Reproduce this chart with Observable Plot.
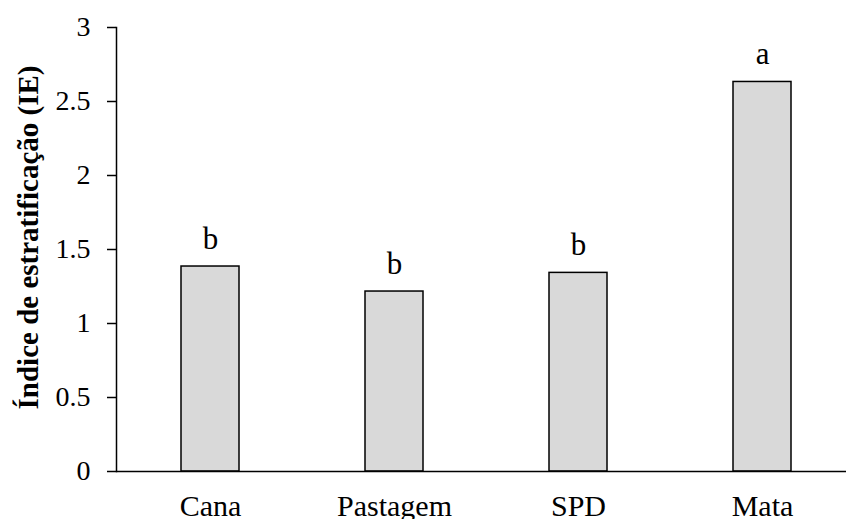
<!DOCTYPE html>
<html>
<head>
<meta charset="utf-8">
<script src="https://cdn.jsdelivr.net/npm/d3@7"></script>
<script src="https://cdn.jsdelivr.net/npm/@observablehq/plot@0.6"></script>
<style>
  html, body { margin: 0; padding: 0; background: #fff; }
</style>
</head>
<body>
<div id="chart"></div>
<script>
const categories = ["Cana", "Pastagem", "SPD", "Mata"];
const values = [1.385, 1.216, 1.342, 2.632];
const letters = ["b", "b", "b", "a"];
const yTicks = [0, 0.5, 1, 1.5, 2, 2.5, 3];
const yLabel = "Índice de estratificação (IE)";

const data = categories.map((c, i) => ({cat: c, value: values[i], letter: letters[i]}));

const chart = Plot.plot({
  width: 846,
  height: 519,
  marginLeft: 116,
  marginRight: 0,
  marginTop: 27,
  marginBottom: 48,
  style: {fontFamily: "'Liberation Serif', 'Times New Roman', serif", fontSize: "28px", color: "#000", background: "#fff"},
  x: {domain: categories, paddingInner: 0.683, paddingOuter: 0.32, align: 0.545, label: null},
  y: {domain: [0, 3], label: null},
  marks: [
    Plot.barY(data, {x: "cat", y: "value", fill: "#d9d9d9", stroke: "#000", strokeWidth: 1.5}),
    Plot.text(data, {x: "cat", y: "value", text: "letter", lineAnchor: "bottom", dy: -18, fontSize: 31}),
    Plot.axisY({ticks: yTicks, tickFormat: d => String(d), tickSize: 9, tickPadding: 17, strokeWidth: 1.5, fontSize: 28, label: null}),
    Plot.axisX({tickSize: 0, tickPadding: 23, fontSize: 30, label: null}),
    Plot.frame({anchor: "left", strokeWidth: 1.5}),
    Plot.ruleY([0], {strokeWidth: 1.5}),
    Plot.text([yLabel], {frameAnchor: "left", textAnchor: "middle", rotate: -90, dx: -88, dy: -12, fontWeight: "bold", fontSize: 29})
  ]
});
document.getElementById("chart").appendChild(chart);
</script>
</body>
</html>
